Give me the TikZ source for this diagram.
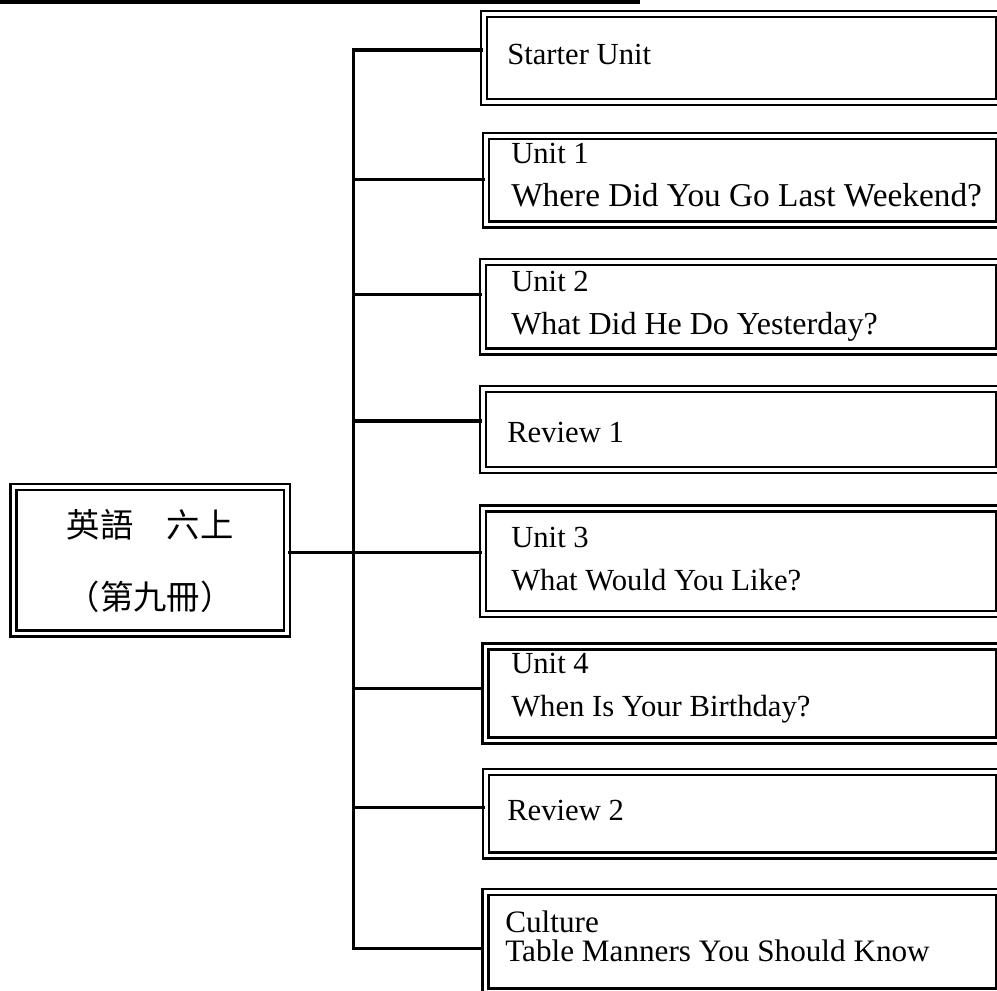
\documentclass[tikz,border=0pt]{standalone}
\usepackage{fontspec}
\setmainfont{Liberation Serif}
\newfontfamily\cjkfont{Noto Sans CJK TC}
\usetikzlibrary{fit}

\begin{document}
\begin{tikzpicture}[x=0.75pt,y=0.75pt,yscale=-1,xscale=1,
  unitbox/.style={draw, line width=1.9pt, double, double distance=2.6pt, inner sep=0pt},
  unittext/.style={anchor=north west, inner sep=0pt, align=left, font=\fontsize{23pt}{32pt}\selectfont},
  branch/.style={line width=2.6pt}]
\useasboundingbox (0,0) rectangle (997,990);
\clip (0,0) rectangle (997,990);

%Shape: Rectangle (bar at top edge)
\fill (0,0) rectangle (640,3.5);

%Shape: Double Rectangle (book)
\node [unitbox, fit={(13.5,487) (287,633.5)}] (book) {};
% Text Node
\node [align=center, inner sep=0pt, font=\cjkfont\fontsize{25pt}{54pt}\selectfont] (booktext) at (150,561) {英語　六上\\（第九冊）};

%Shape: Double Rectangles (units)
\node [unitbox, fit={(484,14) (999,102)}] (s0) {};
\node [unitbox, fit={(486,136) (999,224.5)}] (s1) {};
\node [unitbox, fit={(483,262) (999,351.5)}] (s2) {};
\node [unitbox, fit={(483,389) (999,470)}] (s3) {};
\node [unitbox, fit={(483,508.5) (999,614)}] (s4) {};
\node [unitbox, fit={(485.5,646.5) (999,740.5)}] (s5) {};
\node [unitbox, fit={(486,772) (999,855.5)}] (s6) {};
\node [unitbox, fit={(485.5,892) (999,991.5)}] (s7) {};

% Text Node
\node [unittext] (t0) at (507,44) {Starter Unit};
% Text Node
\node [unittext] (t1) at (511,143) {Unit 1\\\fontsize{25pt}{32pt}\selectfont Where Did You Go Last Weekend?};
% Text Node
\node [unittext] (t2) at (511,271) {Unit 2\\\fontsize{24pt}{32pt}\selectfont What Did He Do Yesterday?};
% Text Node
\node [unittext] (t3) at (507,422) {Review 1};
% Text Node
\node [unittext] (t4) at (511,527) {Unit 3\\What Would You Like?};
% Text Node
\node [unittext] (t5) at (511,653) {Unit 4\\When Is Your Birthday?};
% Text Node
\node [unittext] (t6) at (507,800) {Review 2};
% Text Node
\node [unittext, font=\fontsize{23.4pt}{21.75pt}\selectfont] (t7) at (505,911) {Culture\\Table Manners You Should Know};

%Straight Lines (trunk and branches)
\coordinate (j0) at (353.3,50);
\coordinate (j1) at (353.3,179.3);
\coordinate (j2) at (353.3,294.7);
\coordinate (j3) at (353.3,421);
\coordinate (j4) at (353.3,552.5);
\coordinate (j5) at (353.3,688.7);
\coordinate (j6) at (353.3,807.3);
\coordinate (j7) at (353.3,948.3);
\draw [branch] (j0 -| s0.west) -- (j0) -- (j7) -- (j7 -| s7.west);
\foreach \k in {1,2,3,5,6}
  \draw [branch] (j\k) -- (j\k -| s\k.west);
\draw [branch] (book.east |- j4) -- (j4 -| s4.west);

\end{tikzpicture}
\end{document}
